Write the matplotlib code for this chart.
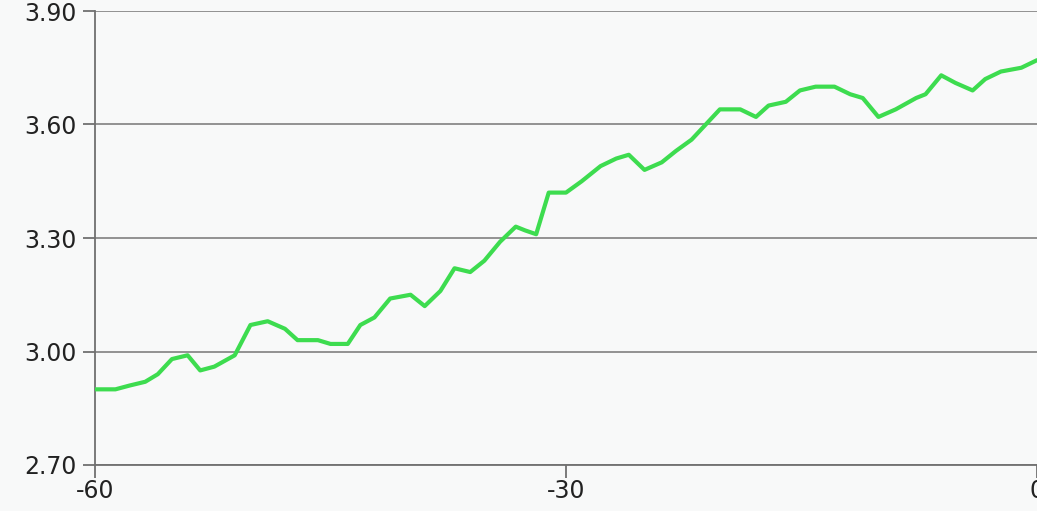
import numpy as np
import matplotlib.pyplot as plt

# values
x_vals = [-60, -58.7, -57.8, -56.8, -56, -55.1, -54.1, -53.3, -52.4, -51.1,
          -50.1, -49, -47.9, -47.1, -45.8, -45, -43.9, -43.1, -42.2, -41.2,
          -39.9, -39, -38, -37.1, -36.1, -35.2, -34.2, -33.2, -32.6, -31.9,
          -31.1, -30, -29, -27.8, -26.8, -26, -25, -23.9, -23, -22,
          -21.1, -20.2, -18.9, -17.9, -17.1, -16, -15.1, -14.1, -12.9, -11.9,
          -11.1, -10.1, -9, -7.7, -7.1, -6.1, -5.2, -4.1, -3.3, -2.3,
          -1, 0]
y_vals = [2.90, 2.90, 2.91, 2.92, 2.94, 2.98, 2.99, 2.95, 2.96, 2.99,
          3.07, 3.08, 3.06, 3.03, 3.03, 3.02, 3.02, 3.07, 3.09, 3.14,
          3.15, 3.12, 3.16, 3.22, 3.21, 3.24, 3.29, 3.33, 3.32, 3.31,
          3.42, 3.42, 3.45, 3.49, 3.51, 3.52, 3.48, 3.50, 3.53, 3.56,
          3.60, 3.64, 3.64, 3.62, 3.65, 3.66, 3.69, 3.70, 3.70, 3.68,
          3.67, 3.62, 3.64, 3.67, 3.68, 3.73, 3.71, 3.69, 3.72, 3.74,
          3.75, 3.77]

x_ticks = [-60, -30, 0]
y_ticks = [2.70, 3.00, 3.30, 3.60, 3.90]

plt.rcParams['font.family'] = ['DejaVu Sans']

bg = '#f8f9f9'
fig = plt.figure(figsize=(10.37, 5.11), dpi=100, facecolor=bg)
ax = fig.add_axes([95 / 1037, 46 / 511, 1 - 95 / 1037, 454 / 511])
ax.set_facecolor(bg)

ax.plot(x_vals, y_vals, color='#3ddc4f', linewidth=3.0,
        solid_joinstyle='round', solid_capstyle='round', zorder=3)

ax.set_xlim(-60, 0)
ax.set_ylim(2.70, 3.90)
ax.set_xticks(x_ticks)
ax.set_xticklabels([str(t) for t in x_ticks])
ax.set_yticks(y_ticks)
ax.set_yticklabels(['%.2f' % t for t in y_ticks])

ax.grid(axis='y', color='#8a8a8a', linewidth=1.3)
for s in ['top', 'right']:
    ax.spines[s].set_visible(False)
for s in ['left', 'bottom']:
    ax.spines[s].set_color('#707070')
    ax.spines[s].set_linewidth(1.3)
ax.tick_params(direction='out', length=9, width=1.3, color='#707070',
               labelsize=17, labelcolor='#222222')
ax.tick_params(axis='y', pad=4)
ax.tick_params(axis='x', pad=1)

fig.savefig('out.png', dpi=100, facecolor=bg)
